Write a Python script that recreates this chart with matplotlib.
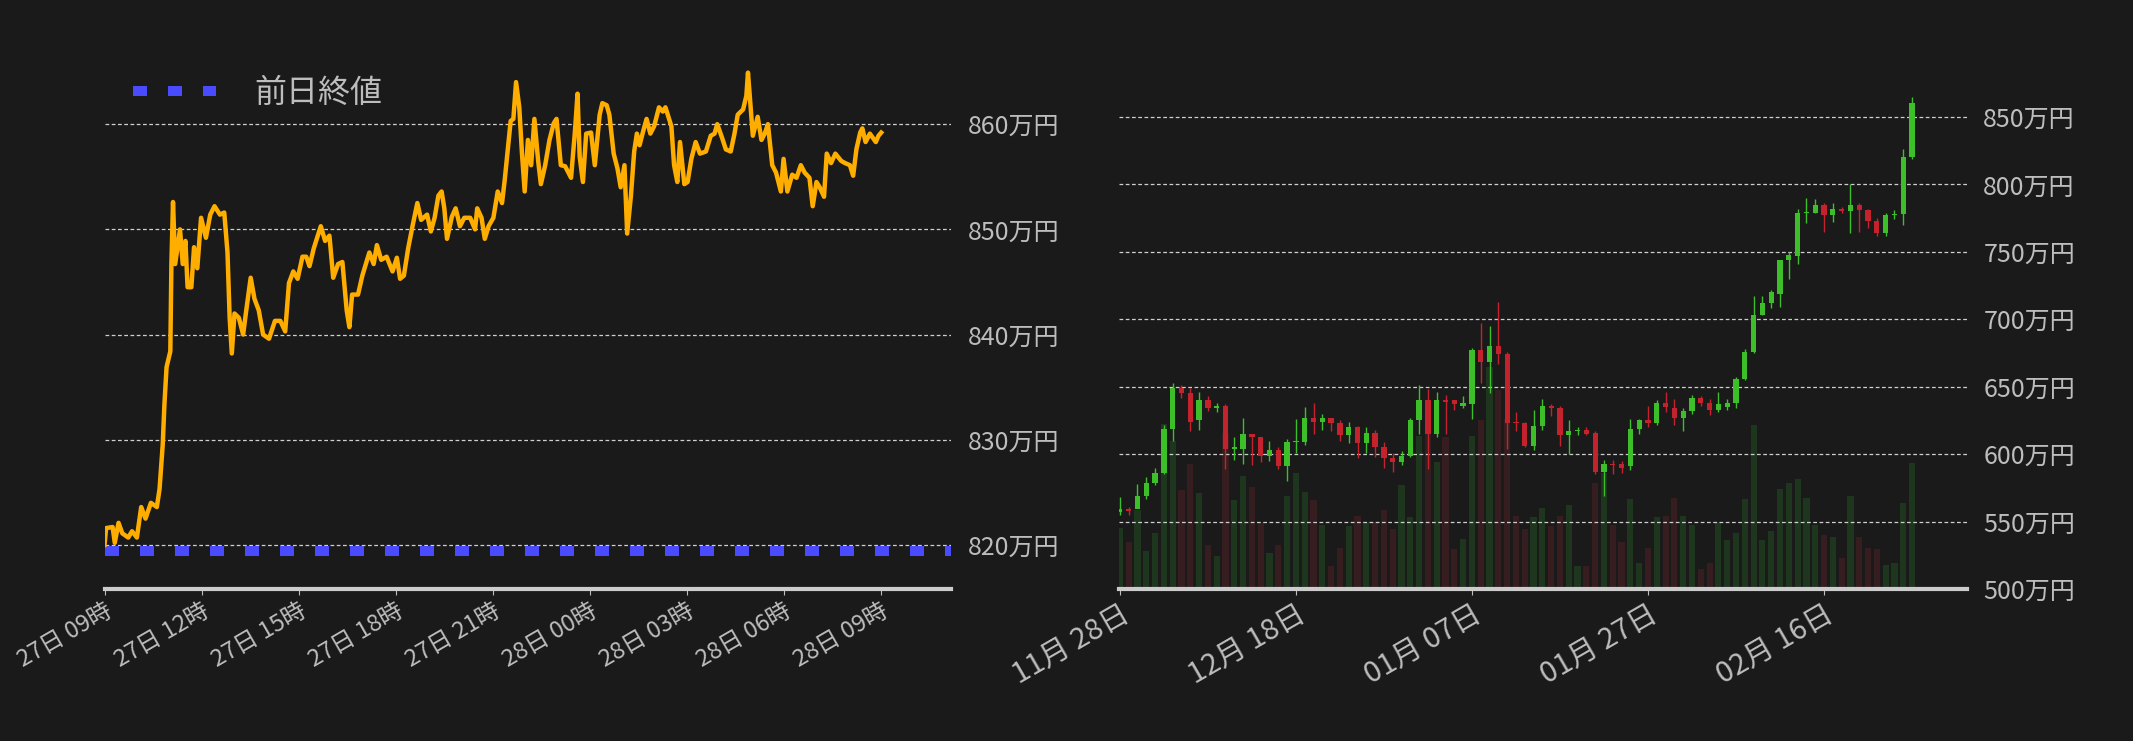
import matplotlib
matplotlib.use("Agg")
import matplotlib.pyplot as plt
import numpy as np

plt.rcParams['font.family'] = ['Noto Sans CJK JP', 'DejaVu Sans']

# ---- intraday data (minutes from 27日 09:00, price in 万円)
minutes = [0,3,15,19,26,33,44,51,60,68,76,86,97,102,108,111,115,122,124,127,131,140,145,150,154,161,166,172,179,188,196,204,214,222,228,232,236,241,249,257,262,271,278,286,294,305,316,326,335,342,350,358,367,374,380,388,401,409,417,424,433,441,449,454,459,470,478,491,499,505,513,523,534,542,548,555,563,571,580,587,598,605,612,619,625,630,635,644,651,659,667,678,687,691,699,705,712,721,729,737,742,747,753,758,763,769,774,779,785,791,797,804,809,817,825,833,838,846,854,865,872,877,881,887,893,902,909,918,923,931,936,944,951,957,964,969,976,982,987,992,998,1005,1012,1019,1028,1035,1040,1051,1056,1062,1067,1075,1081,1088,1096,1104,1115,1124,1131,1136,1145,1152,1161,1168,1174,1184,1190,1193,1198,1202,1211,1218,1224,1230,1238,1245,1254,1259,1266,1275,1283,1291,1298,1307,1313,1320,1326,1334,1339,1347,1355,1366,1373,1382,1388,1394,1401,1405,1411,1419,1430,1435,1440]
prices = [820.0,821.6,821.7,820.2,822.1,821.1,820.7,821.3,820.7,823.6,822.5,824.0,823.6,825.3,829.6,833.3,836.9,838.4,846.7,852.6,846.7,850.0,846.7,848.9,844.5,844.5,848.3,846.3,851.1,849.2,851.4,852.2,851.4,851.6,847.8,841.6,838.2,842.0,841.6,840.0,842.0,845.4,843.4,842.3,840.0,839.6,841.3,841.3,840.3,844.9,846.0,845.3,847.4,847.4,846.5,848.2,850.3,848.9,849.4,845.4,846.7,846.9,842.3,840.7,843.8,843.8,845.6,847.8,846.7,848.5,847.1,847.4,846.0,847.3,845.3,845.6,848.2,850.3,852.5,850.9,851.4,849.8,851.1,853.2,853.6,852.0,849.1,851.2,852.0,850.3,851.1,851.1,850.0,852.0,851.1,849.1,850.3,851.1,853.6,852.5,854.7,857.2,860.3,860.5,864.0,861.6,857.2,853.6,858.5,856.1,860.5,856.5,854.3,856.1,858.5,860.1,860.5,856.1,856.0,854.9,859.2,862.9,856.9,854.5,859.1,859.2,856.1,860.9,862.0,861.8,860.9,857.2,855.8,854.0,856.1,849.6,853.2,857.4,859.1,858.0,859.2,860.5,859.1,859.8,861.6,861.2,861.6,859.8,856.1,854.5,858.3,854.3,854.5,856.7,858.3,857.2,857.4,858.9,859.1,860.0,858.7,857.6,857.4,859.1,860.9,861.4,862.7,864.9,861.6,858.9,860.7,858.5,859.1,860.0,856.1,855.4,853.6,856.7,853.6,855.2,854.9,856.1,855.4,854.9,852.2,854.5,854.0,853.1,857.2,856.3,857.2,856.5,856.3,856.1,855.1,857.6,859.2,859.6,858.3,859.1,858.3,858.9,859.2]
prev_close = 819.4
left_ticks = [0,180,360,540,720,900,1080,1260,1440]
left_labels = ["27日 09時","27日 12時","27日 15時","27日 18時","27日 21時","28日 00時","28日 03時","28日 06時","28日 09時"]
left_yticks = [820,830,840,850,860]

# ---- daily candles (11/28 .. 02/26)
opens  = [557,559,559,569,579,586,619,649,645,625,640,634,636,604,604,615,613,599,603,591,609,609,627,624,627,623,614,620,608,616,605,597,594,599,625,640,615,640,640,636,637,677,668,680,674,624,623,606,621,636,634,614,617,618,616,587,593,593,591,619,625,623,638,634,627,632,642,638,633,635,638,656,676,703,712,719,744,747,779,779,785,777,782,780,785,781,773,764,777,778,820]
highs  = [568,561,578,583,590,622,653,651,649,646,643,638,637,613,627,615,613,610,605,611,626,635,638,630,627,625,624,621,620,618,609,601,602,627,651,648,646,644,640,643,679,697,695,713,676,631,624,633,641,637,636,625,620,620,617,596,596,595,626,626,636,640,646,641,634,644,643,641,646,641,657,678,717,717,722,744,750,782,790,789,786,786,783,800,786,782,775,779,781,826,865]
lows   = [555,555,560,567,577,585,610,642,617,618,632,631,589,596,593,592,594,595,589,580,601,607,615,618,617,610,608,597,601,598,590,587,592,598,615,589,613,615,633,634,626,653,645,667,604,617,605,603,618,628,606,600,614,614,585,569,585,586,588,615,620,622,631,622,617,630,636,629,631,633,634,655,675,703,708,709,730,741,771,779,765,772,779,764,765,768,762,762,774,770,819]
closes = [559,558,569,579,586,619,649,645,624,640,634,636,604,605,615,613,599,603,591,609,610,627,624,627,623,614,620,608,616,605,597,594,599,625,640,615,640,639,637,638,677,668,680,674,623,623,606,621,636,634,614,617,617.5,615,587,593,592,590,619,625,623,638,635,627,632,642,638,633,637,638,656,676,703,712,720,744,748,779,779.5,785,777,782,780,785,781,773,764,777,778,820,860]
volumes = [107,82,137,67,97,287,257,172,217,167,77,57,272,155,197,177,115,62,77,162,202,169,155,112,40,72,109,127,117,117,137,104,182,125,267,282,221,265,70,87,267,294,387,347,297,127,105,125,142,110,127,147,40,40,184,202,112,82,157,45,72,125,127,159,127,112,35,45,117,85,97,157,285,85,102,174,185,192,159,112,94,90,55,162,90,72,70,42,45,150,220]
right_ticks = [0,20,40,60,80]
right_labels = ["11月 28日","12月 18日","01月 07日","01月 27日","02月 16日"]
right_yticks = [500,550,600,650,700,750,800,850]

BG = "#1a1a1a"
TXT = "#bdbdbd"
fig = plt.figure(figsize=(21.33, 7.41), dpi=100, facecolor=BG)

def style(ax):
    ax.set_facecolor(BG)
    for s in ["top", "left", "right"]:
        ax.spines[s].set_visible(False)
    ax.spines["bottom"].set_color("#cccccc")
    ax.spines["bottom"].set_linewidth(3)
    ax.yaxis.tick_right()
    ax.tick_params(axis="y", length=0, colors=TXT, labelsize=18, pad=12)
    ax.tick_params(axis="x", colors=TXT, length=4, labelsize=17)
    ax.grid(axis="y", color="#cfcfcf", linestyle=(0, (3, 2)), linewidth=0.9)
    ax.set_axisbelow(True)

# left chart
ax1 = fig.add_axes([0.049, 0.205, 0.397, 0.741])
style(ax1)
ax1.plot(minutes, prices, color="#ffae00", linewidth=3.2, zorder=3)
ax1.axhline(prev_close, color="#4a4aff", linewidth=7.2, linestyle=(0, (1.4, 2.1)),
            label="前日終値", zorder=2)
ax1.set_xlim(0, 1570)
ax1.set_ylim(815.8, 868.0)
ax1.set_yticks(left_yticks)
ax1.set_yticklabels([f"{v}万円" for v in left_yticks])
ax1.set_xticks(left_ticks)
ax1.set_xticklabels(left_labels, rotation=30, ha="right", rotation_mode="anchor")
leg = ax1.legend(loc="upper left", frameon=False, fontsize=23, handlelength=2.6,
                 handletextpad=1.2, bbox_to_anchor=(0.0, 0.985), labelcolor=TXT)

# right chart
ax2 = fig.add_axes([0.5246, 0.205, 0.3974, 0.741])
style(ax2)
ax2.tick_params(axis="x", labelsize=21)
axv = ax2.twinx()
axv.set_axis_off()
ax2.yaxis.tick_right()
ax2.yaxis.set_label_position("right")
x = np.arange(len(opens))
up = np.array(closes) >= np.array(opens)
vcol = np.where(up, "#1e361e", "#361e20")
axv.bar(x, volumes, width=0.7, color=vcol, zorder=1)
axv.set_ylim(0, 956)
ccol = np.where(up, "#3dbf2a", "#c4222c")
ax2.vlines(x, lows, highs, colors=ccol, linewidth=1, zorder=3)
body_low = np.minimum(opens, closes)
body_h = np.maximum(np.abs(np.array(closes) - np.array(opens)), 0.8)
ax2.bar(x, body_h, bottom=body_low, width=0.6, color=ccol, zorder=4)
ax2.set_zorder(axv.get_zorder() + 1)
ax2.patch.set_visible(False)
axv.patch.set_visible(False)
ax2.set_xlim(-0.1, 96.2)
ax2.set_ylim(500, 907)
ax2.set_yticks(right_yticks)
ax2.set_yticklabels([f"{v}万円" for v in right_yticks])
ax2.tick_params(axis="y", length=0, colors=TXT, labelsize=18, pad=12, labelleft=False, labelright=True)
ax2.set_xticks(right_ticks)
ax2.set_xticklabels(right_labels, rotation=30, ha="right", rotation_mode="anchor")

fig.savefig("out.png", dpi=100, facecolor=BG)
